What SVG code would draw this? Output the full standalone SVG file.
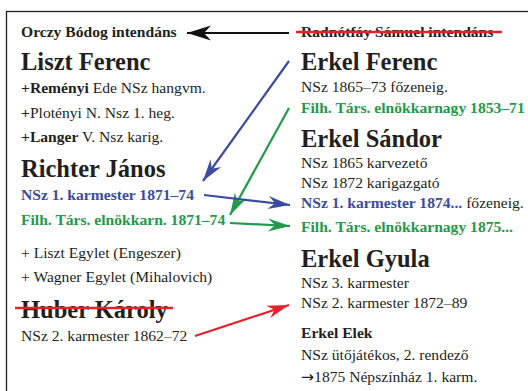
<svg xmlns="http://www.w3.org/2000/svg" width="528" height="391" viewBox="0 0 528 391">
<defs>
<style>
text{font-family:"Liberation Serif","Times New Roman",serif;fill:#231f20}
.b{font-weight:bold}
.h{font-size:24.5px;font-weight:bold}
.n{font-size:15.6px}
.s{font-size:15.6px;font-weight:bold}
.blue{fill:#3b4ba0}
.green{fill:#1f9a4a}
.ar{font-family:"DejaVu Sans",sans-serif}
.ln{fill:none;stroke-width:2.2}
</style>
<marker id="mk" markerUnits="userSpaceOnUse" markerWidth="30" markerHeight="20" viewBox="-26 -10 30 20" refX="0" refY="0" orient="auto"><path d="M0,0 L-24,-7.5 L-17,0 L-24,7.5 Z" fill="#111"/></marker>
<marker id="mb" markerUnits="userSpaceOnUse" markerWidth="30" markerHeight="20" viewBox="-26 -10 30 20" refX="0" refY="0" orient="auto"><path d="M0,0 L-22,-6.5 L-15,0 L-22,6.5 Z" fill="#3b4ba0"/></marker>
<marker id="mg" markerUnits="userSpaceOnUse" markerWidth="30" markerHeight="20" viewBox="-26 -10 30 20" refX="0" refY="0" orient="auto"><path d="M0,0 L-22,-6.5 L-15,0 L-22,6.5 Z" fill="#1f9a4a"/></marker>
<marker id="mr" markerUnits="userSpaceOnUse" markerWidth="30" markerHeight="20" viewBox="-26 -10 30 20" refX="0" refY="0" orient="auto"><path d="M0,0 L-22,-6.5 L-15,0 L-22,6.5 Z" fill="#e8202a"/></marker>
</defs>
<rect x="6.5" y="11.5" width="600" height="500" fill="#fff" stroke="#231f20" stroke-width="1.3"/>

<g id="orczy"><text x="21" y="37" class="s">Orczy Bódog intendáns</text></g>
<g id="radnotfay"><text x="301" y="37" class="s">Radnótfáy Sámuel intendáns</text>
<line x1="296" y1="32" x2="502" y2="32" stroke="#e8202a" stroke-width="2.5"/></g>

<g id="liszt">
<text x="21" y="70" class="h">Liszt Ferenc</text>
<text x="21" y="93" class="n"><tspan class="b">+Reményi</tspan> Ede NSz hangvm.</text>
<text x="21" y="118" class="n"><tspan class="b">+</tspan>Plotényi N. Nsz 1. heg.</text>
<text x="21" y="142" class="n"><tspan class="b">+Langer</tspan> V. Nsz karig.</text>
</g>

<g id="richter">
<text x="21" y="177" class="h">Richter János</text>
<text x="21" y="200" class="s blue">NSz 1. karmester 1871–74</text>
<text x="21" y="225" class="s green">Filh. Társ. elnökkarn. 1871–74</text>
<text x="21" y="258" class="n">+ Liszt Egylet (Engeszer)</text>
<text x="21" y="282" class="n">+ Wagner Egylet (Mihalovich)</text>
</g>

<g id="huber">
<text x="21" y="318" class="h">Huber Károly</text>
<line x1="15" y1="308" x2="173" y2="308" stroke="#e8202a" stroke-width="2.5"/>
<text x="21" y="341" class="n">NSz 2. karmester 1862–72</text>
</g>

<g id="erkel-ferenc">
<text x="301" y="70" class="h">Erkel Ferenc</text>
<text x="301" y="92" class="n">NSz 1865–73 főzeneig.</text>
<text x="301" y="113" class="s green">Filh. Társ. elnökkarnagy 1853–71</text>
</g>

<g id="erkel-sandor">
<text x="301" y="147" class="h">Erkel Sándor</text>
<text x="301" y="168" class="n">NSz 1865 karvezető</text>
<text x="301" y="188" class="n">NSz 1872 karigazgató</text>
<text x="301" y="208" class="n"><tspan class="b blue">NSz 1. karmester 1874...</tspan> főzeneig.</text>
<text x="301" y="232" class="s green">Filh. Társ. elnökkarnagy 1875...</text>
</g>

<g id="erkel-gyula">
<text x="301" y="267" class="h">Erkel Gyula</text>
<text x="301" y="288" class="n">NSz 3. karmester</text>
<text x="301" y="308" class="n">NSz 2. karmester 1872–89</text>
</g>

<g id="erkel-elek">
<text x="301" y="338" class="s">Erkel Elek</text>
<text x="301" y="360" class="n">NSz ütőjátékos, 2. rendező</text>
<text x="301" y="382" class="n"><tspan class="ar">→</tspan>1875 Népszínház 1. karm.</text>
</g>

<g id="connectors">
<line x1="289" y1="33" x2="187" y2="33" stroke="#111" stroke-width="2" marker-end="url(#mk)"/>
<line x1="289" y1="61" x2="203" y2="181" class="ln" stroke="#3b4ba0" marker-end="url(#mb)"/>
<line x1="289" y1="108" x2="230" y2="215" class="ln" stroke="#1f9a4a" marker-end="url(#mg)"/>
<line x1="204" y1="195" x2="290" y2="205" class="ln" stroke="#3b4ba0" marker-end="url(#mb)"/>
<line x1="230" y1="223" x2="290" y2="226" class="ln" stroke="#1f9a4a" marker-end="url(#mg)"/>
<line x1="195" y1="336" x2="289" y2="305" class="ln" stroke="#e8202a" marker-end="url(#mr)"/>
</g>
</svg>
